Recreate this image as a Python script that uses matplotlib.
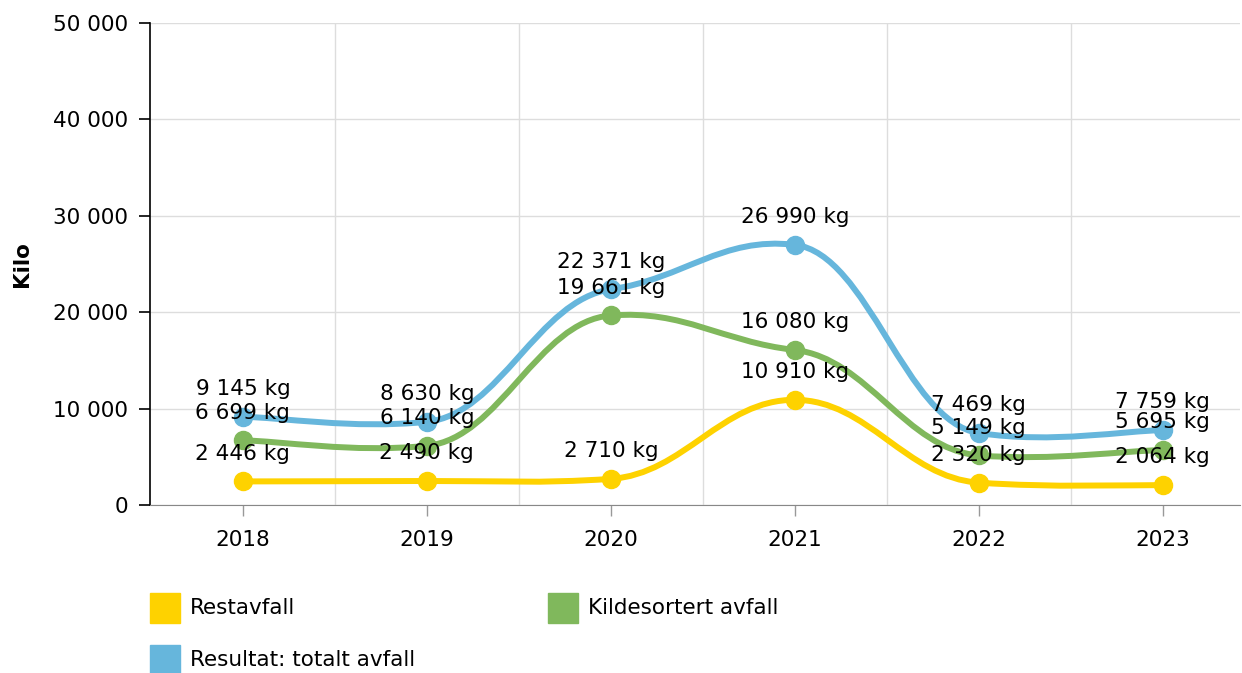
import numpy as np
import matplotlib
matplotlib.use("Agg")
from matplotlib import pyplot as plt
from matplotlib.path import Path
from matplotlib.patches import PathPatch, Rectangle
from matplotlib.ticker import FuncFormatter

years = ["2018", "2019", "2020", "2021", "2022", "2023"]
restavfall = [2446, 2490, 2710, 10910, 2320, 2064]
kildesortert = [6699, 6140, 19661, 16080, 5149, 5695]
totalt = [9145, 8630, 22371, 26990, 7469, 7759]

names = ["Restavfall", "Kildesortert avfall", "Resultat: totalt avfall"]
colors = ["#FED200", "#80B85C", "#66B6DC"]

plt.rcParams["font.family"] = "DejaVu Sans"
FS = 15.5


def tension_path(xs, ys, kx=0.2, ky=0.06):
    # smoothed line, separate x / y tension (handles along neighbour direction)
    n = len(xs)
    verts = [(xs[0], ys[0])]
    codes = [Path.MOVETO]
    for i in range(n - 1):
        i0 = max(i - 1, 0)
        i3 = min(i + 2, n - 1)
        ax_ = xs[i] + kx * (xs[i + 1] - xs[i0])
        ay_ = ys[i] + ky * (ys[i + 1] - ys[i0])
        bx_ = xs[i + 1] - kx * (xs[i3] - xs[i])
        by_ = ys[i + 1] - ky * (ys[i3] - ys[i])
        verts += [(ax_, ay_), (bx_, by_), (xs[i + 1], ys[i + 1])]
        codes += [Path.CURVE4] * 3
    return Path(verts, codes)


fig = plt.figure(figsize=(12.42, 6.73), dpi=100)
ax = fig.add_axes([150 / 1242, 1 - 505 / 673, 1090 / 1242, 482 / 673])

x = np.arange(len(years))
for vals, col in zip([restavfall, kildesortert, totalt], colors):
    ax.add_patch(PathPatch(tension_path(list(x), vals), fill=False,
                           edgecolor=col, lw=4.3, capstyle="round", zorder=3))
    ax.plot(x, vals, "o", color=col, ms=13, zorder=4)
    for xi, v in zip(x, vals):
        lbl = f"{v:,} kg".replace(",", " ")
        ax.annotate(lbl, (xi, v), xytext=(0, 20), textcoords="offset points",
                    ha="center", va="center", fontsize=FS, color="black", zorder=5)

ax.set_xlim(-0.505, 5.42)
ax.set_ylim(0, 50000)
ax.set_yticks(np.arange(0, 50001, 10000))
ax.yaxis.set_major_formatter(FuncFormatter(lambda v, p: f"{int(v):,}".replace(",", " ")))
ax.set_xticks(x)
ax.set_xticklabels(years)
ax.set_xticks(np.arange(0.5, 5, 1), minor=True)
ax.grid(axis="y", color="#dddddd", lw=1)
ax.grid(axis="x", which="minor", color="#dddddd", lw=1)
ax.set_axisbelow(True)
ax.tick_params(axis="y", length=8, width=1.2, color="black", labelsize=FS, pad=8)
ax.tick_params(axis="x", which="major", length=8, width=1, color="#999999",
               labelsize=FS, pad=10)
ax.tick_params(axis="x", which="minor", length=0)
for s in ["top", "right"]:
    ax.spines[s].set_visible(False)
ax.spines["left"].set_linewidth(1.2)
ax.spines["bottom"].set_color("#888888")
ax.set_ylabel("Kilo", fontsize=FS, fontweight="bold", labelpad=15)

# legend
leg_pos = [(150, 593), (548, 593), (150, 645)]
for (lx, ly), col, name in zip(leg_pos, colors, names):
    fig.add_artist(Rectangle((lx / 1242, 1 - (ly + 30) / 673), 30 / 1242, 30 / 673,
                             transform=fig.transFigure, color=col))
    fig.text((lx + 40) / 1242, 1 - (ly + 15) / 673, name, fontsize=FS,
             va="center", ha="left")

fig.savefig("out.png", dpi=100)
